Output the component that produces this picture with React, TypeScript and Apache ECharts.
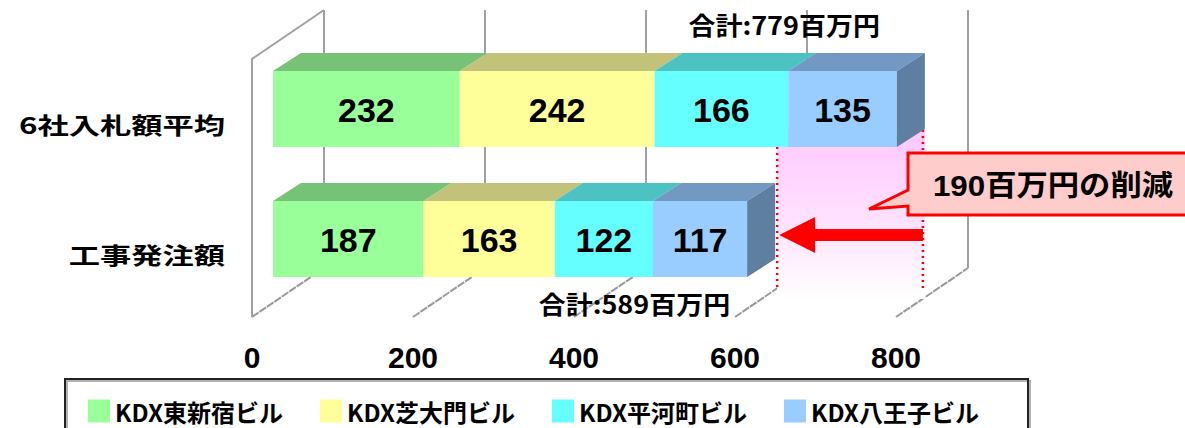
import React, { useEffect, useRef } from "react";
import * as echarts from "echarts";

// ---- data ----
const categories = ["6社入札額平均", "工事発注額"];
const buildings = ["KDX東新宿ビル", "KDX芝大門ビル", "KDX平河町ビル", "KDX八王子ビル"];
const higashiShinjuku = [232, 187];
const shibaDaimon = [242, 163];
const hirakawacho = [166, 122];
const hachioji = [135, 117];
const totalLabels = [779, 589];
const xTicks = [0, 200, 400, 600, 800];

// ---- styles ----
const seriesValues = [higashiShinjuku, shibaDaimon, hirakawacho, hachioji];
const frontColors = ["#99FF99", "#FFFF99", "#66FFFF", "#99CCFF"];
const topColors = ["#76C276", "#C2C27A", "#4DC2C2", "#7399C2"];
const sideColor = "#5F7FA0";
const OFF = 21; // bar front offset from front plane
const DX = 28; // bar depth
const DY = -18;
const BAR_H = 76;
const WALL_DX = 72;
const WALL_DY = -49;
const FLOOR_Y = 317;
const WALL_TOP = 10;
const LATIN = "'Liberation Sans', Arial, 'Noto Sans CJK JP', sans-serif";
const CJK = "'Noto Sans CJK JP', 'Liberation Sans', sans-serif";

const sums = categories.map((_, i) => seriesValues.reduce((a, s) => a + s[i], 0));

export default function App() {
  const ref = useRef<HTMLDivElement>(null);
  useEffect(() => {
    if (!ref.current) return;
    const chart = echarts.init(ref.current, undefined, { renderer: "svg" });

    const barSeries = seriesValues.map((vals, s) => {
      const data = vals.map((v, i) => {
        let start = 0;
        for (let k = 0; k < s; k++) start += seriesValues[k][i];
        return [start, start + v, i, v];
      });
      return {
        type: "custom",
        name: buildings[s],
        z: 3,
        itemStyle: { color: frontColors[s] },
        encode: { x: [0, 1], y: 2 },
        data,
        renderItem: (params: any, api: any) => {
          const start = api.value(0);
          const end = api.value(1);
          const cat = api.value(2);
          const val = api.value(3);
          const p0 = api.coord([start, cat]);
          const p1 = api.coord([end, cat]);
          const x0 = p0[0] + OFF;
          const x1 = p1[0] + OFF;
          const yc = p0[1];
          const yt = yc - BAR_H / 2;
          const yb = yc + BAR_H / 2;
          const children: any[] = [
            {
              type: "polygon",
              shape: { points: [[x0, yt], [x1, yt], [x1 + DX, yt + DY], [x0 + DX, yt + DY]] },
              style: { fill: topColors[s] },
            },
            {
              type: "rect",
              shape: { x: x0, y: yt, width: x1 - x0, height: BAR_H },
              style: { fill: frontColors[s] },
            },
          ];
          if (s === seriesValues.length - 1) {
            children.push({
              type: "polygon",
              shape: { points: [[x1, yt], [x1 + DX, yt + DY], [x1 + DX, yb + DY], [x1, yb]] },
              style: { fill: sideColor },
            });
          }
          children.push({
            type: "text",
            x: (x0 + x1) / 2,
            y: yc + 1,
            style: {
              text: String(val),
              fill: "#000",
              fontSize: 34,
              fontWeight: "bold",
              fontFamily: LATIN,
              align: "center",
              verticalAlign: "middle",
              textShadowColor: "rgba(0,0,0,0.25)",
              textShadowOffsetX: 1,
              textShadowOffsetY: 1,
            },
          });
          return { type: "group", children };
        },
      };
    });

    const wallSeries = {
      type: "custom",
      z: 1,
      silent: true,
      encode: { x: 0, y: 1 },
      data: xTicks.map((v) => [v, 0]),
      renderItem: (params: any, api: any) => {
        const v = api.value(0);
        const x = api.coord([v, 0])[0];
        const stroke = { stroke: "#A0A0A0", lineWidth: 2 };
        const children: any[] = [
          {
            type: "line",
            shape: { x1: x + WALL_DX, y1: WALL_TOP, x2: x + WALL_DX, y2: FLOOR_Y + WALL_DY },
            style: stroke,
          },
          {
            type: "line",
            shape: { x1: x, y1: FLOOR_Y, x2: x + WALL_DX, y2: FLOOR_Y + WALL_DY },
            style: { stroke: "#9A9A9A", lineWidth: 2, lineDash: [8, 1] },
          },
        ];
        if (params.dataIndex === 0) {
          children.push({
            type: "polyline",
            shape: { points: [[x, FLOOR_Y], [x, WALL_TOP - WALL_DY], [x + WALL_DX, WALL_TOP]] },
            style: { stroke: "#A0A0A0", lineWidth: 2, fill: "none" },
          });
        }
        return { type: "group", children };
      },
    };

    const annotationSeries = {
      type: "custom",
      z: 2,
      silent: true,
      encode: { x: [0, 2], y: [1, 3] },
      data: [[sums[0], 0, sums[1], 1]],
      renderItem: (params: any, api: any) => {
        const pTop = api.coord([api.value(0), 0]);
        const pBot = api.coord([api.value(2), 1]);
        const xTop = pTop[0] + OFF + DX - 2;
        const xBot = pBot[0] + OFF + DX + 2;
        const yTopBottom = pTop[1] + BAR_H / 2;
        const yBot = pBot[1];
        const yEnd = yBot + 52;
        const ay = yBot - 4;
        return {
          type: "group",
          children: [
            {
              type: "rect",
              shape: { x: xBot, y: yTopBottom + DY, width: xTop - xBot + 2, height: yEnd + 8 - (yTopBottom + DY) },
              style: {
                fill: new echarts.graphic.LinearGradient(0, 0, 0, 1, [
                  { offset: 0, color: "#FFC8FF" },
                  { offset: 0.55, color: "#FFE2FF" },
                  { offset: 1, color: "#FFFFFF" },
                ]),
              },
            },
            {
              type: "line",
              shape: { x1: xBot, y1: yTopBottom, x2: xBot, y2: yEnd },
              style: { stroke: "#FF0000", lineWidth: 2.5, lineDash: [2, 4] },
            },
            {
              type: "line",
              shape: { x1: xTop, y1: yTopBottom + DY + 1, x2: xTop, y2: yEnd },
              style: { stroke: "#FF0000", lineWidth: 2.5, lineDash: [2, 4] },
            },
            {
              type: "polygon",
              shape: {
                points: [
                  [xBot + 2, ay],
                  [xBot + 38, ay - 18],
                  [xBot + 38, ay - 6],
                  [xTop, ay - 6],
                  [xTop, ay + 6],
                  [xBot + 38, ay + 6],
                  [xBot + 38, ay + 18],
                ],
              },
              style: { fill: "#FF0000" },
            },
          ],
        };
      },
    };

    const totalSeries = {
      type: "custom",
      z: 4,
      silent: true,
      encode: { x: 0, y: 1 },
      data: sums.map((s, i) => [s, i, totalLabels[i]]),
      renderItem: (params: any, api: any) => {
        const p = api.coord([api.value(0), api.value(1)]);
        const i = params.dataIndex;
        return {
          type: "text",
          x: p[0] + OFF - 17,
          y: i === 0 ? p[1] - 85 : p[1] + 64,
          scaleX: 1.08,
          style: {
            text: "合計:" + api.value(2) + "百万円",
            fill: "#000",
            fontSize: 25,
            fontWeight: "bold",
            fontFamily: CJK,
            align: "right",
            verticalAlign: "middle",
          },
        };
      },
    };

    const catLabelSeries = {
      type: "custom",
      z: 4,
      silent: true,
      encode: { x: 0, y: 1 },
      data: categories.map((_, i) => [0, i]),
      renderItem: (params: any, api: any) => {
        const p = api.coord([0, api.value(1)]);
        return {
          type: "text",
          x: p[0] - 27,
          y: p[1] + 15,
          scaleX: 1.36,
          style: {
            text: categories[params.dataIndex],
            fill: "#000",
            fontSize: 23,
            fontWeight: "bold",
            fontFamily: CJK,
            align: "right",
            verticalAlign: "middle",
            textShadowColor: "rgba(0,0,0,0.45)",
            textShadowOffsetX: 2,
            textShadowOffsetY: 2,
          },
        };
      },
    };

    const diff = totalLabels[0] - totalLabels[1];

    chart.setOption({
      animation: false,
      grid: { left: 252, right: 289, top: 44, bottom: 124 },
      xAxis: {
        type: "value",
        min: 0,
        max: 800,
        interval: 200,
        axisLine: { show: false },
        axisTick: { show: false },
        splitLine: { show: false },
        axisLabel: {
          margin: 38,
          fontSize: 30,
          fontWeight: "bold",
          fontFamily: LATIN,
          color: "#000",
          textShadowColor: "rgba(0,0,0,0.3)",
          textShadowOffsetX: 1,
          textShadowOffsetY: 1,
        },
      },
      yAxis: {
        type: "category",
        inverse: true,
        data: categories,
        axisLine: { show: false },
        axisTick: { show: false },
        axisLabel: { show: false },
        splitLine: { show: false },
      },
      legend: {
        data: buildings,
        left: 83,
        top: 394,
        icon: "rect",
        itemWidth: 22,
        itemHeight: 23,
        itemGap: 37,
        selectedMode: false,
        textStyle: {
          fontSize: 24,
          fontWeight: "bold",
          fontFamily: CJK,
          color: "#000",
          textShadowColor: "rgba(0,0,0,0.4)",
          textShadowOffsetX: 2,
          textShadowOffsetY: 2,
        },
      },
      graphic: [
        {
          type: "rect",
          shape: { x: 65, y: 379, width: 963, height: 70 },
          style: { fill: "none", stroke: "#222", lineWidth: 2, shadowColor: "rgba(0,0,0,0.3)", shadowOffsetX: 2, shadowOffsetY: 2, shadowBlur: 0 },
          z: 0,
        },
        {
          type: "polygon",
          shape: {
            points: [
              [908, 153],
              [1195, 153],
              [1195, 215],
              [908, 215],
              [908, 206],
              [869, 209],
              [908, 190],
            ],
          },
          style: { fill: "#FFCCCC", stroke: "#FF0000", lineWidth: 3 },
          z: 10,
        },
        {
          type: "text",
          x: 1053,
          y: 186,
          scaleX: 1.08,
          style: {
            text: diff + "百万円の削減",
            fill: "#000",
            fontSize: 29,
            fontWeight: "bold",
            fontFamily: LATIN,
            align: "center",
            verticalAlign: "middle",
            textShadowColor: "rgba(0,0,0,0.3)",
            textShadowOffsetX: 1,
            textShadowOffsetY: 1,
          },
          z: 11,
        },
      ],
      series: [wallSeries, annotationSeries, ...barSeries, totalSeries, catLabelSeries],
    });
    return () => chart.dispose();
  }, []);
  return (
    <div
      ref={ref}
      style={{ position: "absolute", left: 0, top: 0, width: 1185, height: 428, background: "#fff" }}
    />
  );
}
